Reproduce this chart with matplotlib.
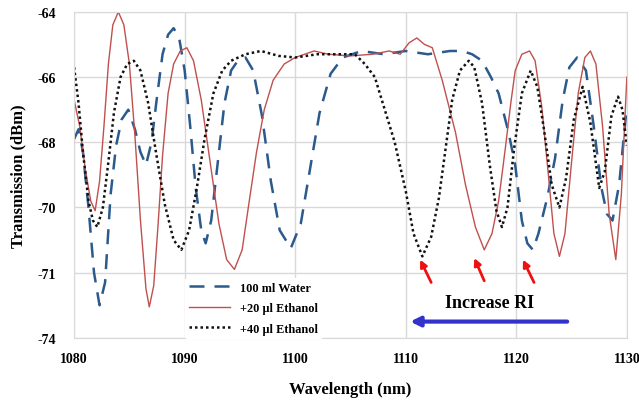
import matplotlib
matplotlib.use("Agg")
import matplotlib.pyplot as plt

plt.rcParams['font.family'] = ['Liberation Serif', 'DejaVu Serif']

# --- data (y in evenly spaced axis units) ---
water_x = [1080.0, 1080.4, 1080.8, 1081.3, 1081.8, 1082.3, 1082.8, 1083.3, 1083.8, 1084.3,
           1084.9, 1085.5, 1086.0, 1086.5, 1087.0, 1087.5, 1088.0, 1088.5, 1089.0, 1089.5,
           1090.0, 1090.5, 1091.0, 1091.5, 1091.9, 1092.4, 1093.0, 1093.6, 1094.2, 1094.8,
           1095.5, 1096.2, 1097.0, 1097.8, 1098.6, 1099.6, 1100.5, 1101.3, 1102.2, 1103.2,
           1104.3, 1106.0, 1108.0, 1110.0, 1112.0, 1114.0, 1115.1, 1116.0, 1116.9, 1117.7,
           1118.4, 1119.3, 1119.9, 1120.5, 1121.0, 1121.5, 1122.0, 1122.8, 1123.5, 1124.2,
           1124.8, 1125.5, 1126.3, 1127.0, 1127.7, 1128.2, 1128.7, 1129.3, 1130.0]
water_y = [-67.9, -67.6, -68.3, -70.0, -72.0, -73.0, -72.3, -69.6, -68.1, -67.3,
           -67.0, -67.6, -68.3, -68.7, -68.0, -66.6, -65.3, -64.7, -64.5, -64.8,
           -65.8, -67.5, -69.4, -70.7, -71.1, -70.4, -68.6, -66.8, -65.8, -65.5,
           -65.4, -65.8, -67.2, -69.2, -70.7, -71.25, -70.5, -68.9, -67.1, -65.9,
           -65.4, -65.2, -65.3, -65.2, -65.3, -65.2, -65.2, -65.3, -65.5, -66.0,
           -66.5, -67.7, -68.7, -70.4, -71.1, -71.3, -70.8, -69.7, -68.5, -66.7,
           -65.7, -65.4, -65.8, -67.5, -69.4, -70.2, -70.4, -69.3, -66.9]

eth20_x = [1080.0, 1080.5, 1081.0, 1081.5, 1081.9, 1082.3, 1082.7, 1083.1, 1083.5, 1084.0,
           1084.5, 1085.0, 1085.5, 1086.0, 1086.5, 1086.8, 1087.2, 1087.6, 1088.0, 1088.5,
           1089.0, 1089.6, 1090.2, 1090.8, 1091.5, 1092.3, 1093.1, 1093.8, 1094.5, 1095.2,
           1095.8, 1096.5, 1097.2, 1098.0, 1099.0, 1100.0, 1101.7, 1103.0, 1105.0, 1107.0,
           1108.5, 1109.5, 1110.3, 1111.0, 1111.7, 1112.4, 1113.3, 1114.5, 1115.4, 1116.3,
           1117.1, 1117.8, 1118.4, 1119.0, 1119.5, 1119.9, 1120.5, 1121.2, 1121.7, 1122.3,
           1122.9, 1123.4, 1123.9, 1124.4, 1125.0, 1125.6, 1126.2, 1126.7, 1127.2, 1127.8,
           1128.4, 1129.0, 1129.5, 1130.0]
eth20_y = [-66.7, -67.5, -68.8, -69.8, -70.1, -69.2, -67.5, -65.6, -64.4, -64.0,
           -64.4, -65.6, -67.8, -70.4, -72.5, -73.05, -72.4, -70.5, -68.4, -66.5,
           -65.6, -65.2, -65.1, -65.5, -66.7, -68.6, -70.5, -71.6, -71.9, -71.3,
           -69.9, -68.3, -67.0, -66.1, -65.6, -65.4, -65.2, -65.3, -65.35, -65.3,
           -65.2, -65.3, -64.95, -64.8, -65.0, -65.1, -66.1, -67.7, -69.3, -70.6,
           -71.3, -70.8, -69.8, -68.2, -66.8, -65.8, -65.3, -65.2, -65.5, -66.9,
           -69.0, -70.8, -71.5, -70.8, -68.6, -66.5, -65.4, -65.2, -65.6, -67.5,
           -70.2, -71.6, -69.6, -66.0]

eth40_x = [1080.0, 1080.4, 1080.8, 1081.3, 1081.7, 1082.1, 1082.6, 1083.1, 1083.6, 1084.2,
           1084.8, 1085.4, 1086.0, 1086.7, 1087.4, 1088.2, 1089.0, 1089.7, 1090.4, 1091.1,
           1091.8, 1092.6, 1093.4, 1094.2, 1095.5, 1096.9, 1098.5, 1100.0, 1102.0, 1104.0,
           1105.4, 1106.3, 1107.2, 1108.1, 1109.0, 1110.0, 1110.7, 1111.5, 1112.3, 1113.0,
           1113.6, 1114.2, 1114.9, 1115.7, 1116.2, 1116.9, 1117.6, 1118.2, 1118.7, 1119.2,
           1119.8, 1120.5, 1121.3, 1121.9, 1122.5, 1123.2, 1123.9, 1124.5, 1125.2, 1126.0,
           1126.7, 1127.5, 1128.0, 1128.6, 1129.2, 1129.6, 1130.0]
eth40_y = [-65.7, -66.8, -68.3, -69.8, -70.4, -70.6, -70.0, -68.6, -67.1, -66.0,
           -65.6, -65.5, -65.8, -66.8, -68.3, -69.9, -71.0, -71.3, -70.7, -69.4,
           -67.9, -66.5, -65.8, -65.5, -65.3, -65.2, -65.35, -65.4, -65.3, -65.3,
           -65.3, -65.6, -66.0, -67.0, -68.0, -69.5, -70.8, -71.5, -70.9, -69.7,
           -68.2, -66.7, -65.8, -65.5, -65.7, -66.8, -68.7, -70.1, -70.6, -70.0,
           -68.2, -66.5, -65.8, -66.3, -67.6, -69.3, -70.0, -69.1, -67.3, -66.3,
           -67.4, -69.4, -68.9, -67.2, -66.6, -67.0, -68.1]

y_ticks = [-64, -66, -68, -70, -72, -74]
y_labels = ['-64', '-66', '-68', '-70', '-71', '-74']
x_ticks = [1080, 1090, 1100, 1110, 1120, 1130]

# red arrows pointing at the dips: (tail x, tail y, head x, head y)
dip_arrows = [(1112.3, -72.3, 1111.3, -71.6),
              (1117.1, -72.25, 1116.2, -71.55),
              (1121.6, -72.3, 1120.6, -71.6)]

fig = plt.figure(figsize=(6.39, 4.02), dpi=100)
ax = fig.add_axes([0.116, 0.157, 0.865, 0.811])

ax.plot(water_x, water_y, color='#2b5a8c', lw=1.8, dashes=(6, 4), label='100 ml Water')
ax.plot(eth20_x, eth20_y, color='#c0504d', lw=1.0, label='+20 µl Ethanol')
ax.plot(eth40_x, eth40_y, color='#111111', lw=1.8, linestyle=(0, (1, 1.2)), label='+40 µl Ethanol')

ax.set_xlim(1080, 1130)
ax.set_ylim(-74, -64)
ax.set_xticks(x_ticks)
ax.set_yticks(y_ticks)
ax.set_yticklabels(y_labels)
ax.tick_params(axis='x', length=0, labelsize=10, pad=10)
ax.tick_params(axis='y', length=0, labelsize=10, pad=13)
for lab in ax.get_xticklabels() + ax.get_yticklabels():
    lab.set_fontweight('bold')
ax.grid(True, color='#d9d9d9', lw=1)
ax.set_axisbelow(True)
for s in ax.spines.values():
    s.set_color('#d9d9d9')

ax.set_xlabel('Wavelength (nm)', fontsize=12, fontweight='bold', labelpad=12)
ax.set_ylabel('Transmission (dBm)', fontsize=12, fontweight='bold', labelpad=8)

leg = ax.legend(loc='lower left', bbox_to_anchor=(0.19, -0.02), frameon=True,
                prop={'size': 8.8, 'weight': 'bold'}, handlelength=3.4,
                handletextpad=0.8, labelspacing=0.7, borderpad=0.3)
leg.get_frame().set_edgecolor('white')
leg.get_frame().set_facecolor('white')
leg.get_frame().set_alpha(1)

for tx, ty, hx, hy in dip_arrows:
    ax.annotate('', xy=(hx, hy), xytext=(tx, ty),
                arrowprops=dict(arrowstyle='-|>', color='#ee1111', lw=2,
                                mutation_scale=10, shrinkA=0, shrinkB=0))

ax.annotate('', xy=(1110.4, -73.5), xytext=(1124.6, -73.5),
            arrowprops=dict(arrowstyle='-|>', color='#3333cc', lw=3,
                            mutation_scale=14, shrinkA=0, shrinkB=0))
ax.text(1117.6, -72.9, 'Increase RI', ha='center', va='center',
        fontsize=13, fontweight='bold')

fig.savefig('out.png', dpi=100)
